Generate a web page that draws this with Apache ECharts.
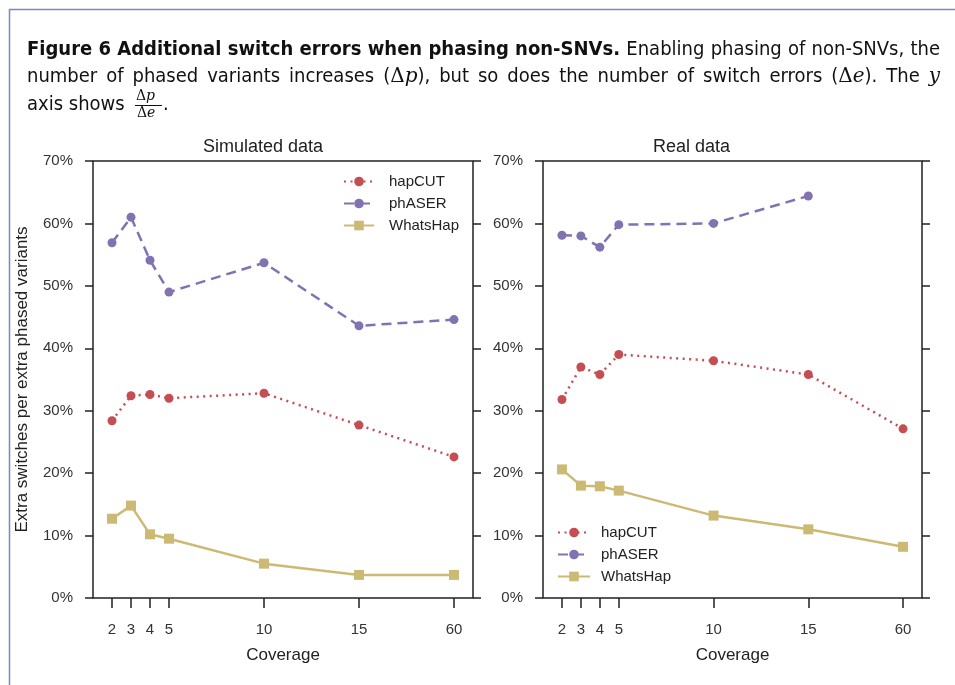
<!DOCTYPE html>
<html>
<head>
<meta charset="utf-8">
<script src="https://cdn.jsdelivr.net/npm/echarts@6/dist/echarts.min.js"></script>
<style>
  html, body { margin: 0; padding: 0; background: #fff; }
  #chart { width: 955px; height: 685px; }
</style>
</head>
<body>
<div id="chart"></div>
<script>
// coverage categories; 60 sits one step after 15 on the axis
var coverageLabels = ['2', '3', '4', '5', '10', '15', '60'];
var coveragePos = [2, 3, 4, 5, 10, 15, 20];

// simulated data (percent)
var simHapcut = [28.4, 32.4, 32.6, 32.0, 32.8, 27.7, 22.6];
var simPhaser = [56.9, 61.0, 54.1, 49.0, 53.7, 43.6, 44.6];
var simWhatshap = [12.7, 14.8, 10.2, 9.5, 5.5, 3.7, 3.7];

// real data (percent), phASER has no 60x value
var realHapcut = [31.8, 37.0, 35.8, 39.0, 38.0, 35.8, 27.1];
var realPhaser = [58.1, 58.0, 56.2, 59.8, 60.0, 64.4, null];
var realWhatshap = [20.6, 18.0, 17.9, 17.2, 13.2, 11.0, 8.2];

var RED = '#c44e52', PURPLE = '#8172b2', GOLD = '#ccb974';
var FONT = '"Liberation Sans", Arial, sans-serif';

// caption fonts
var CAP = '20px "DejaVu Sans Condensed", sans-serif';
var capFonts = {
  b: 'bold 20px "DejaVu Sans Condensed", sans-serif',
  m: '20px "DejaVu Serif", serif',
  i: 'italic 20px "DejaVu Serif", serif'
};

function pairs(vals) {
  var out = [];
  for (var i = 0; i < vals.length; i++) {
    if (vals[i] != null) out.push([coveragePos[i], vals[i]]);
  }
  return out;
}

// measure a rich string like 'abc {i|p}' with canvas
var mctx = document.createElement('canvas').getContext('2d');
function measureRich(str) {
  var re = /\{(\w+)\|([^}]*)\}|([^{]+)/g, m, w = 0;
  while ((m = re.exec(str)) !== null) {
    if (m[1]) { mctx.font = capFonts[m[1]]; w += mctx.measureText(m[2]).width; }
    else { mctx.font = CAP; w += mctx.measureText(m[3]).width; }
  }
  return w;
}

// spread words across [x0, x1] like justified text
function justifyLine(words, x0, x1, top) {
  var widths = words.map(measureRich);
  var total = widths.reduce(function (a, b) { return a + b; }, 0);
  var gap = (x1 - x0 - total) / (words.length - 1);
  var x = x0, els = [];
  var rich = {};
  for (var k in capFonts) rich[k] = { font: capFonts[k], fill: '#111' };
  words.forEach(function (wd, i) {
    els.push({ type: 'text', x: x, y: top, silent: true,
      style: { text: wd, font: CAP, fill: '#111', rich: rich } });
    x += widths[i] + gap;
  });
  return els;
}

function xAxisFor(g) {
  return {
    type: 'value', gridIndex: g, min: 1, max: 21,
    name: 'Coverage', nameLocation: 'middle', nameGap: 49,
    nameTextStyle: { fontFamily: FONT, fontSize: 17, color: '#222' },
    axisLine: { show: false },
    splitLine: { show: false },
    axisTick: { show: true, length: 10, customValues: coveragePos,
      lineStyle: { color: '#222', width: 1.5 } },
    axisLabel: { customValues: coveragePos, margin: 24,
      fontFamily: FONT, fontSize: 15, color: '#333',
      formatter: function (v) { return coverageLabels[coveragePos.indexOf(v)]; } }
  };
}

function yAxisFor(g, side, withLabels) {
  return {
    type: 'value', gridIndex: g, position: side, min: 0, max: 70, interval: 10,
    axisLine: { show: false },
    splitLine: { show: false },
    axisTick: { show: true, length: 8, lineStyle: { color: '#222', width: 1.5 } },
    axisLabel: { show: withLabels, margin: 20, fontFamily: FONT, fontSize: 15, color: '#333',
      formatter: function (v) { return v + '%'; } }
  };
}

function lineSeries(name, g, vals, color, dash, symbol, size) {
  return {
    name: name, type: 'line', xAxisIndex: g, yAxisIndex: g * 2,
    data: pairs(vals), symbol: symbol, symbolSize: size,
    lineStyle: { color: color, width: 2.5, type: dash },
    itemStyle: { color: color },
    emphasis: { disabled: true }
  };
}

var names = ['hapCUT', 'phASER', 'WhatsHap'];

var captionEls = []
  .concat(justifyLine(
    ['{b|Figure}', '{b|6}', '{b|Additional}', '{b|switch}', '{b|errors}', '{b|when}', '{b|phasing}',
     '{b|non-SNVs.}', 'Enabling', 'phasing', 'of', 'non-SNVs,', 'the'], 27, 940, 40))
  .concat(justifyLine(
    ['number', 'of', 'phased', 'variants', 'increases', '({m|Δ}{i|p}),', 'but', 'so', 'does', 'the',
     'number', 'of', 'switch', 'errors', '({m|Δ}{i|e}).', 'The', '{i|y}'], 27, 940, 67));

var option = {
  backgroundColor: '#fff',
  animation: false,
  grid: [
    { left: 93, top: 161, width: 380, height: 437, show: true,
      borderColor: '#222', borderWidth: 1.5, backgroundColor: 'transparent' },
    { left: 543, top: 161, width: 379, height: 437, show: true,
      borderColor: '#222', borderWidth: 1.5, backgroundColor: 'transparent' }
  ],
  xAxis: [xAxisFor(0), xAxisFor(1)],
  yAxis: [
    Object.assign(yAxisFor(0, 'left', true), {
      name: 'Extra switches per extra phased variants', nameLocation: 'middle', nameGap: 62,
      nameTextStyle: { fontFamily: FONT, fontSize: 17, color: '#222' } }),
    yAxisFor(0, 'right', false),
    yAxisFor(1, 'left', true),
    yAxisFor(1, 'right', false)
  ],
  legend: [
    { data: names, left: 338, top: 169, orient: 'vertical', itemWidth: 30, itemHeight: 12,
      itemGap: 7, selectedMode: false,
      textStyle: { fontFamily: FONT, fontSize: 15, color: '#222', padding: [0, 0, 0, 10] } },
    { data: names, left: 552, top: 520, orient: 'vertical', itemWidth: 32, itemHeight: 12,
      itemGap: 7, selectedMode: false,
      textStyle: { fontFamily: FONT, fontSize: 15, color: '#222', padding: [0, 0, 0, 6] } }
  ],
  series: [
    lineSeries('hapCUT', 0, simHapcut, RED, [2, 4.5], 'circle', 9),
    lineSeries('phASER', 0, simPhaser, PURPLE, [10, 6], 'circle', 9),
    lineSeries('WhatsHap', 0, simWhatshap, GOLD, 'solid', 'rect', 10),
    lineSeries('hapCUT', 1, realHapcut, RED, [2, 4.5], 'circle', 9),
    lineSeries('phASER', 1, realPhaser, PURPLE, [10, 6], 'circle', 9),
    lineSeries('WhatsHap', 1, realWhatshap, GOLD, 'solid', 'rect', 10)
  ],
  graphic: [
    { type: 'rect', shape: { x: 9.5, y: 9.5, width: 1200, height: 1200 },
      style: { fill: 'none', stroke: '#728dba', lineWidth: 1.5 }, silent: true },
    { type: 'text', left: 283 - 80, top: 138,
      style: { text: 'Simulated data', font: '18px ' + FONT, fill: '#222', width: 160, align: 'center' } },
    { type: 'text', left: 733 - 80, top: 138,
      style: { text: 'Real data', font: '18px ' + FONT, fill: '#222', width: 160, align: 'center' } },
    { type: 'text', x: 27, y: 95, silent: true,
      style: { text: 'axis shows', font: CAP, fill: '#111' } },
    { type: 'text', x: 136, y: 89, silent: true,
      style: { text: 'Δ{i|p}', font: '14px "DejaVu Serif", serif', fill: '#111',
        rich: { i: { font: 'italic 14px "DejaVu Serif", serif', fill: '#111' } } } },
    { type: 'line', shape: { x1: 135, y1: 105.5, x2: 162, y2: 105.5 },
      style: { stroke: '#111', lineWidth: 1 }, silent: true },
    { type: 'text', x: 137, y: 106, silent: true,
      style: { text: 'Δ{i|e}', font: '14px "DejaVu Serif", serif', fill: '#111',
        rich: { i: { font: 'italic 14px "DejaVu Serif", serif', fill: '#111' } } } },
    { type: 'text', x: 163, y: 95, silent: true,
      style: { text: '.', font: CAP, fill: '#111' } }
  ].concat(captionEls)
};

var chart = echarts.init(document.getElementById('chart'), null, { renderer: 'canvas' });
chart.setOption(option);
</script>
</body>
</html>
